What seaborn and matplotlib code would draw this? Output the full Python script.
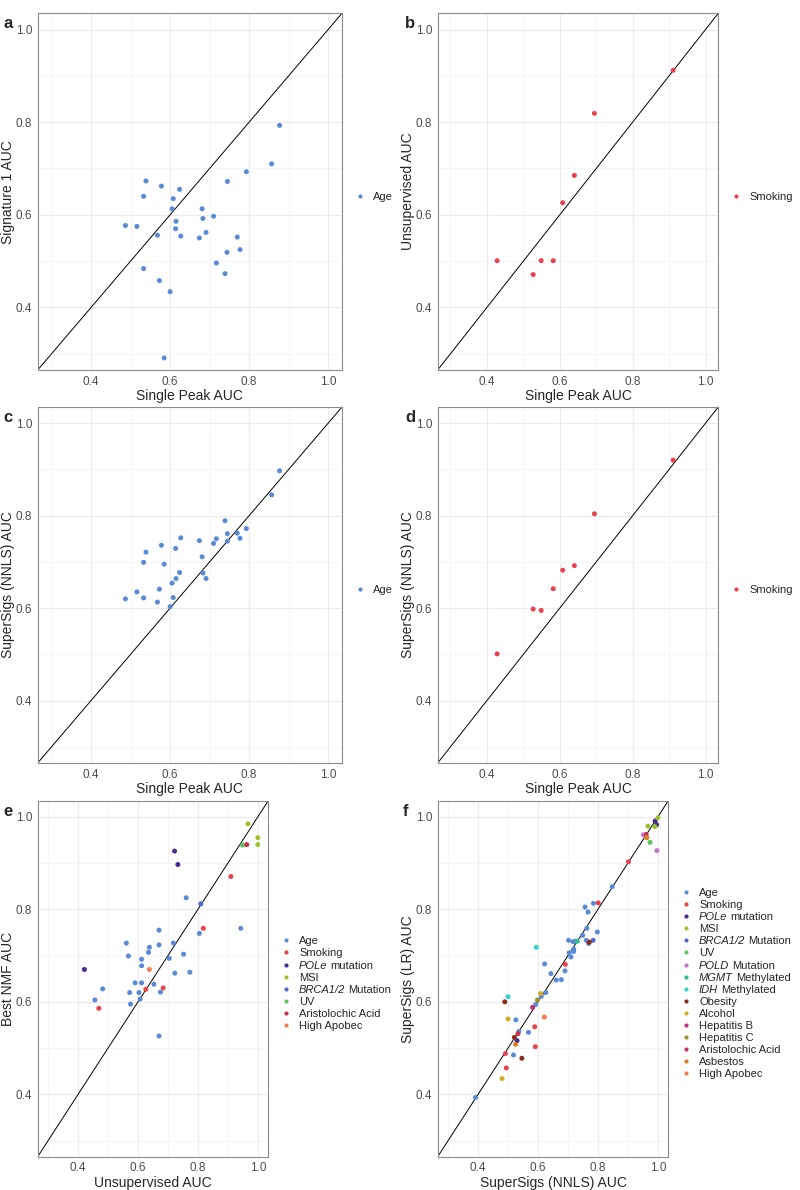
import pandas as pd
import matplotlib.pyplot as plt
import seaborn as sns

#------------------DATA-------------------------------------------

# panel a : Age, single peak vs signature 1
a_peak = [0.877, 0.857, 0.793, 0.745, 0.539, 0.578, 0.624, 0.533, 0.608, 0.605,
          0.681, 0.710, 0.683, 0.615, 0.487, 0.516, 0.614, 0.691, 0.568, 0.627,
          0.674, 0.770, 0.777, 0.744, 0.717, 0.533, 0.739, 0.573, 0.600, 0.585]
a_sig1 = [0.793, 0.710, 0.693, 0.672, 0.673, 0.662, 0.655, 0.640, 0.635, 0.613,
          0.613, 0.597, 0.592, 0.586, 0.577, 0.575, 0.570, 0.562, 0.556, 0.554,
          0.550, 0.552, 0.525, 0.519, 0.496, 0.484, 0.473, 0.458, 0.434, 0.291]

# panel b : Smoking, single peak vs unsupervised
b_peak = [0.911, 0.695, 0.640, 0.608, 0.428, 0.549, 0.582, 0.527]
b_unsup = [0.912, 0.819, 0.685, 0.626, 0.501, 0.501, 0.501, 0.471]

# panel c : Age, single peak vs SuperSigs (NNLS)
c_peak = [0.877, 0.857, 0.739, 0.793, 0.745, 0.770, 0.627, 0.717, 0.777, 0.674,
          0.745, 0.710, 0.578, 0.614, 0.539, 0.681, 0.533, 0.585, 0.624, 0.683,
          0.615, 0.691, 0.605, 0.573, 0.516, 0.487, 0.533, 0.608, 0.568, 0.600]
c_nnls = [0.897, 0.845, 0.789, 0.772, 0.761, 0.762, 0.752, 0.750, 0.751, 0.746,
          0.745, 0.740, 0.736, 0.729, 0.721, 0.711, 0.699, 0.695, 0.677, 0.676,
          0.664, 0.664, 0.654, 0.641, 0.635, 0.620, 0.622, 0.623, 0.613, 0.603]

# panel d : Smoking, single peak vs SuperSigs (NNLS)
d_peak = [0.911, 0.695, 0.640, 0.608, 0.582, 0.527, 0.549, 0.428]
d_nnls = [0.920, 0.804, 0.692, 0.682, 0.642, 0.598, 0.595, 0.501]

# label parts written in italics (gene names)
italic_part = {'POLe mutation': 'POLe', 'BRCA1/2 Mutation': 'BRCA1/2',
               'POLD Mutation': 'POLD', 'MGMT Methylated': 'MGMT',
               'IDH Methylated': 'IDH'}

# panel e : unsupervised vs best NMF
e_unsup = [0.761, 0.943, 0.670, 0.805, 0.670, 0.718, 0.638, 0.561, 0.635, 0.568,
           0.752, 0.612, 0.704, 0.612, 0.723, 0.773, 0.590, 0.612, 0.653, 0.482,
           0.572, 0.603, 0.675, 0.607, 0.456, 0.575, 0.670,
           0.910, 0.818, 0.626, 0.684, 0.469,
           0.722, 0.733, 0.421,
           0.967, 1.000, 1.000,
           0.810,
           0.949,
           0.963,
           0.638]
e_nmf = [0.825, 0.759, 0.755, 0.748, 0.723, 0.727, 0.718, 0.727, 0.707, 0.699,
         0.703, 0.692, 0.694, 0.678, 0.662, 0.664, 0.641, 0.641, 0.638, 0.628,
         0.620, 0.620, 0.621, 0.606, 0.604, 0.595, 0.526,
         0.871, 0.759, 0.627, 0.630, 0.586,
         0.926, 0.897, 0.670,
         0.985, 0.955, 0.940,
         0.812,
         0.939,
         0.940,
         0.670]
e_group = (['Age'] * 27 + ['Smoking'] * 5 + ['POLe mutation'] * 3 + ['MSI'] * 3
           + ['BRCA1/2 Mutation'] + ['UV'] + ['Aristolochic Acid'] + ['High Apobec'])
e_order = ['Age', 'Smoking', 'POLe mutation', 'MSI', 'BRCA1/2 Mutation', 'UV',
           'Aristolochic Acid', 'High Apobec']

# panel f : SuperSigs NNLS vs LR
f_nnls = [0.391, 0.848, 0.757, 0.785, 0.767, 0.763, 0.749, 0.798, 0.761, 0.769,
          0.702, 0.717, 0.724, 0.719, 0.719, 0.704, 0.710, 0.622, 0.690, 0.643,
          0.661, 0.678, 0.626, 0.611, 0.592, 0.526, 0.568, 0.536, 0.518,
          0.902, 0.801, 0.691, 0.589, 0.591, 0.491, 0.494,
          0.991, 0.996, 0.530,
          1.000, 0.967, 0.990,
          0.784,
          0.974,
          0.952, 0.997,
          0.731,
          0.594, 0.500,
          0.771, 0.489, 0.521, 0.546,
          0.609, 0.500, 0.480,
          0.582,
          0.598,
          0.961, 0.533,
          0.963, 0.525,
          0.621]
f_lr = [0.393, 0.849, 0.805, 0.813, 0.794, 0.759, 0.744, 0.751, 0.733, 0.726,
        0.733, 0.730, 0.731, 0.714, 0.709, 0.706, 0.697, 0.682, 0.667, 0.661,
        0.647, 0.648, 0.620, 0.612, 0.594, 0.561, 0.534, 0.536, 0.485,
        0.903, 0.814, 0.681, 0.546, 0.503, 0.488, 0.457,
        0.991, 0.983, 0.516,
        0.998, 0.980, 0.979,
        0.733,
        0.945,
        0.961, 0.927,
        0.731,
        0.718, 0.611,
        0.729, 0.600, 0.523, 0.478,
        0.618, 0.563, 0.434,
        0.588,
        0.604,
        0.962, 0.531,
        0.955, 0.508,
        0.567]
f_group = (['Age'] * 29 + ['Smoking'] * 7 + ['POLe mutation'] * 3 + ['MSI'] * 3
           + ['BRCA1/2 Mutation'] + ['UV'] + ['POLD Mutation'] * 2 + ['MGMT Methylated']
           + ['IDH Methylated'] * 2 + ['Obesity'] * 4 + ['Alcohol'] * 3 + ['Hepatitis B']
           + ['Hepatitis C'] + ['Aristolochic Acid'] * 2 + ['Asbestos'] * 2 + ['High Apobec'])
f_order = ['Age', 'Smoking', 'POLe mutation', 'MSI', 'BRCA1/2 Mutation', 'UV',
           'POLD Mutation', 'MGMT Methylated', 'IDH Methylated', 'Obesity', 'Alcohol',
           'Hepatitis B', 'Hepatitis C', 'Aristolochic Acid', 'Asbestos', 'High Apobec']

palette = {'Age': '#5A89D6', 'Smoking': '#E8424F', 'POLe mutation': '#4A2A8C',
           'MSI': '#9CC232', 'BRCA1/2 Mutation': '#5566CC', 'UV': '#5CC65C',
           'POLD Mutation': '#CC72D4', 'MGMT Methylated': '#2DBE8C',
           'IDH Methylated': '#3CCFD0', 'Obesity': '#8E2C1C', 'Alcohol': '#D6AC2A',
           'Hepatitis B': '#C23072', 'Hepatitis C': '#9A9232',
           'Aristolochic Acid': '#C83450', 'Asbestos': '#DC7C20', 'High Apobec': '#F07E52'}

#----------------STYLE---------------------------------------------
sns.set_style('white')
plt.rcParams['font.family'] = ['Liberation Sans', 'DejaVu Sans']

W, H = 800, 1190
fig = plt.figure(figsize=(W / 100, H / 100), dpi=100)


def fx(px):
    return px / W


def fy(py):
    return 1 - py / H


def draw_legend(ax, order, box):
    # ggplot-like key: small dot + label, 12 px per row, centred on the panel
    x0, x1, y0, y1 = box
    n = len(order)
    mid = (y0 + y1) / 2 + 4
    mx = x1 + 17.7
    for i, g in enumerate(order):
        yy = mid + (i - (n - 1) / 2) * 12.1
        ax.scatter([fx(mx)], [fy(yy)], s=9, color=palette[g], linewidths=0,
                   transform=fig.transFigure, clip_on=False)
        if g in italic_part:
            head = italic_part[g]
            t = ax.text(fx(mx + 13), fy(yy + 4), head, transform=fig.transFigure,
                        fontsize=8, style='italic', va='baseline', ha='left')
            ax.annotate(g[len(head):].strip(), xy=(1, 0), xycoords=t,
                        xytext=(2.0, 0), textcoords='offset points', fontsize=8,
                        va='bottom', ha='left')
        else:
            ax.text(fx(mx + 13), fy(yy + 4), g, transform=fig.transFigure, fontsize=8,
                    va='baseline', ha='left')


def panel(box, x, y, groups, order, xlabel, ylabel, tag, tagpos):
    x0, x1, y0, y1 = box
    ax = fig.add_axes([fx(x0), fy(y1), (x1 - x0) / W, (y1 - y0) / H])
    df = pd.DataFrame({'x': x, 'y': y, 'g': groups})
    ax.axline((0.3, 0.3), (1.0, 1.0), color='black', lw=0.7, zorder=1)
    sns.scatterplot(data=df, x='x', y='y', hue='g', hue_order=order, palette=palette,
                    s=13, linewidth=0, ax=ax, zorder=3, legend=False)
    ax.set_xlim(0.265, 1.035)
    ax.set_ylim(0.265, 1.035)
    ax.set_xticks([0.4, 0.6, 0.8, 1.0])
    ax.set_yticks([0.4, 0.6, 0.8, 1.0])
    ax.set_xticks([0.3, 0.5, 0.7, 0.9], minor=True)
    ax.set_yticks([0.3, 0.5, 0.7, 0.9], minor=True)
    ax.grid(which='major', color='#EBEBEB', lw=0.8, zorder=0)
    ax.grid(which='minor', color='#F4F4F4', lw=0.6, zorder=0)
    ax.set_axisbelow(True)
    ax.tick_params(which='major', length=2.5, width=0.6, color='#555555',
                   labelsize=8.5, labelcolor='#4D4D4D', pad=1.5)
    ax.tick_params(which='minor', length=0)
    for sp in ax.spines.values():
        sp.set_color('#8C8C8C')
        sp.set_linewidth(0.8)
    ax.set_xlabel(xlabel, fontsize=10, labelpad=1)
    ax.set_ylabel(ylabel, fontsize=10, labelpad=0.5)
    draw_legend(ax, order, box)
    fig.text(fx(tagpos[0]), fy(tagpos[1]), tag, fontsize=12, weight='bold',
             ha='center', va='center')
    return ax


panel((37.7, 342, 13.3, 370), a_peak, a_sig1, ['Age'] * len(a_peak), ['Age'],
      'Single Peak AUC', 'Signature 1 AUC', 'a', (8, 23))
panel((437.7, 718.3, 13.3, 370), b_peak, b_unsup, ['Smoking'] * len(b_peak), ['Smoking'],
      'Single Peak AUC', 'Unsupervised AUC', 'b', (410, 23))
panel((37.7, 342, 407, 763), c_peak, c_nnls, ['Age'] * len(c_peak), ['Age'],
      'Single Peak AUC', 'SuperSigs (NNLS) AUC', 'c', (8, 417))
panel((437.7, 718.3, 407, 763), d_peak, d_nnls, ['Smoking'] * len(d_peak), ['Smoking'],
      'Single Peak AUC', 'SuperSigs (NNLS) AUC', 'd', (410, 417))
panel((37.7, 268.3, 800.7, 1156.7), e_unsup, e_nmf, e_group, e_order,
      'Unsupervised AUC', 'Best NMF AUC', 'e', (8, 811))
panel((437.7, 668.3, 800.7, 1156.7), f_nnls, f_lr, f_group, f_order,
      'SuperSigs (NNLS) AUC', 'SuperSigs (LR) AUC', 'f', (406, 811))

fig.savefig('out.png', dpi=100)
